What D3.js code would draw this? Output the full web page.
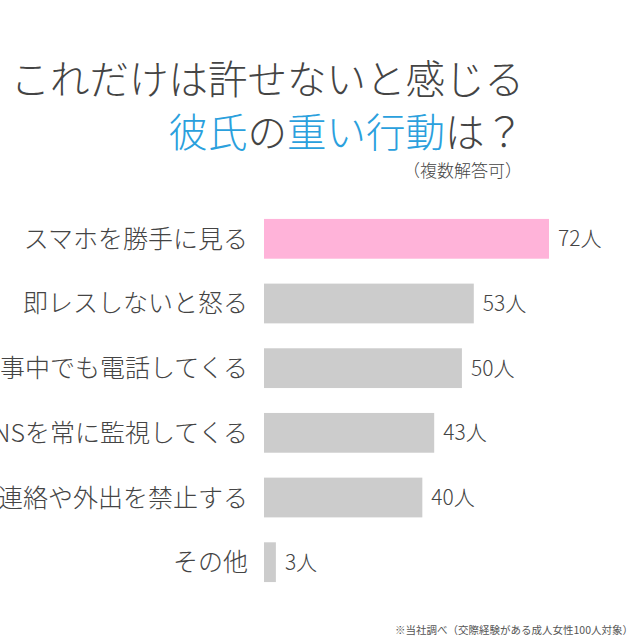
<!DOCTYPE html>
<html><head><meta charset="utf-8">
<script src="https://cdn.jsdelivr.net/npm/d3@7"></script>
<style>body{margin:0;background:#fff}svg{display:block}text{font-family:"Noto Sans CJK JP",sans-serif}</style>
</head><body>
<script>
const categories = ["スマホを勝手に見る","即レスしないと怒る","食事中でも電話してくる","SNSを常に監視してくる","異性との連絡や外出を禁止する","その他"];
const values = [72,53,50,43,40,3];
const unit = "人";
const titleLine1 = "これだけは許せないと感じる";
const titleLine2 = [["彼氏","#2aa0dd"],["の","#444"],["重い行動","#2aa0dd"],["は？","#444"]];
const subtitle = "（複数解答可）";
const footnote = "※当社調べ（交際経験がある成人女性100人対象）";

const W=640,H=640;
const svg=d3.select("body").append("svg").attr("width",W).attr("height",H);
const x=d3.scaleLinear().domain([0,72]).range([264,549]);
const y=d3.scaleBand().domain(categories).range([206,595]).paddingInner(0.385).paddingOuter(0.2);

svg.append("text").attr("x",524).attr("y",94).attr("text-anchor","end")
  .attr("font-size",39.5).attr("fill","#444").attr("font-weight",300).text(titleLine1);
const t2=svg.append("text").attr("x",524).attr("y",147).attr("text-anchor","end")
  .attr("font-size",39.5).attr("font-weight",300);
titleLine2.forEach(([s,c])=>t2.append("tspan").attr("fill",c).text(s));
svg.append("text").attr("x",522).attr("y",177).attr("text-anchor","end")
  .attr("font-size",17).attr("fill","#444").attr("font-weight",300).text(subtitle);

const g=svg.append("g");
g.selectAll("rect").data(categories).join("rect")
  .attr("x",x(0)).attr("y",d=>y(d)).attr("height",y.bandwidth())
  .attr("width",(d,i)=>x(values[i])-x(0))
  .attr("fill",(d,i)=>i===0?"#ffb3d9":"#cccccc");
g.selectAll("text.cat").data(categories).join("text").attr("class","cat")
  .attr("x",248).attr("y",d=>y(d)+y.bandwidth()/2).attr("dy","0.36em")
  .attr("text-anchor","end").attr("font-size",25).attr("fill","#444").attr("font-weight",300).text(d=>d);
g.selectAll("text.val").data(categories).join("text").attr("class","val")
  .attr("x",(d,i)=>x(values[i])+9).attr("y",d=>y(d)+y.bandwidth()/2).attr("dy","0.36em")
  .attr("font-size",21).attr("fill","#444").attr("font-weight",300).text((d,i)=>values[i]+unit);

svg.append("text").attr("x",633).attr("y",634).attr("text-anchor","end")
  .attr("font-size",10.5).attr("fill","#555").text(footnote);
</script>
</body></html>
